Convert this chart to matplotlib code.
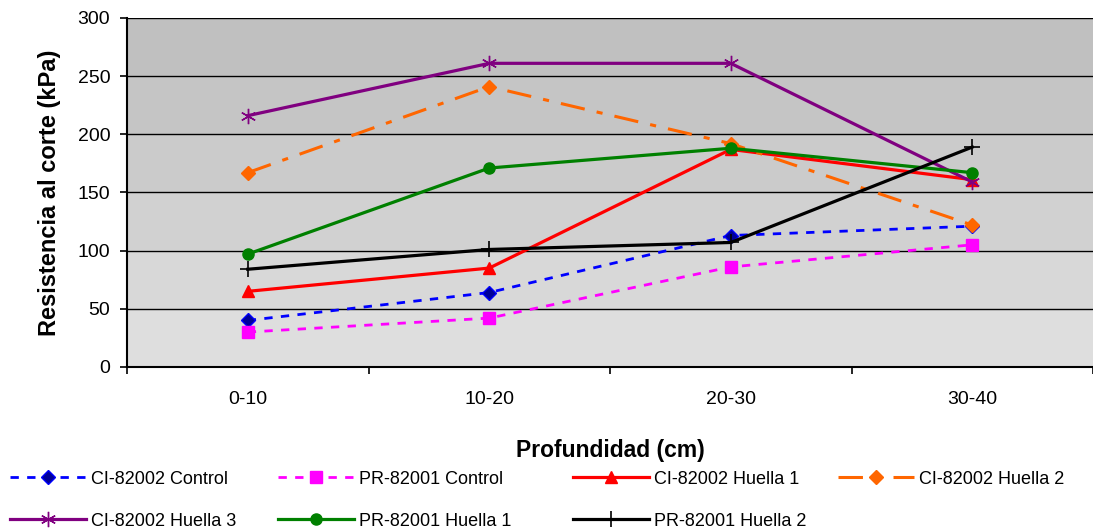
import numpy as np
import matplotlib.pyplot as plt

plt.rcParams['font.family'] = ['Liberation Sans', 'DejaVu Sans']

# datos
profundidad = ['0-10', '10-20', '20-30', '30-40']
ci_control = [40, 64, 113, 121]
pr_control = [30, 42, 86, 105]
ci_huella1 = [65, 85, 187, 161]
ci_huella2 = [167, 241, 192, 122]
ci_huella3 = [216, 261, 261, 159]
pr_huella1 = [97, 171, 188, 167]
pr_huella2 = [84, 101, 107, 189]

fig = plt.figure(figsize=(10.93, 5.31), dpi=100)
ax = fig.add_axes([0.1162, 0.3089, 0.8838, 0.6573])

x = np.arange(len(profundidad))

# fondo degradado en bandas
bandas = np.array([0.75, 0.77, 0.795, 0.82, 0.845, 0.87]).reshape(-1, 1)
ax.imshow(bandas, cmap='gray', vmin=0, vmax=1, aspect='auto',
          extent=[-0.5, 3.5, 0, 300], origin='upper', zorder=0, interpolation='nearest')

for yv in range(50, 301, 50):
    ax.axhline(yv, color='black', lw=1.0, zorder=1)

series = [
    (ci_control, 'CI-82002 Control', dict(color='#0000ff', ls=(0, (3, 3)), lw=2, marker='D', ms=7, mfc='#000099', mec='#0000ff')),
    (pr_control, 'PR-82001 Control', dict(color='#ff00ff', ls=(0, (3, 3)), lw=2, marker='s', ms=8)),
    (ci_huella1, 'CI-82002 Huella 1', dict(color='#ff0000', ls='-', lw=2.3, marker='^', ms=9)),
    (ci_huella2, 'CI-82002 Huella 2', dict(color='#ff6600', ls=(0, (8, 4, 2, 4)), lw=2.2, marker='D', ms=7)),
    (ci_huella3, 'CI-82002 Huella 3', dict(color='#800080', ls='-', lw=2.3, marker=(6, 2, 0), ms=11, mew=1)),
    (pr_huella1, 'PR-82001 Huella 1', dict(color='#008000', ls='-', lw=2.3, marker='o', ms=8)),
    (pr_huella2, 'PR-82001 Huella 2', dict(color='#000000', ls='-', lw=2.3, marker='+', ms=12, mew=1.2)),
]

handles = []
for vals, nombre, st in series:
    h, = ax.plot(x, vals, label=nombre, zorder=3, **st)
    handles.append(h)

ax.set_xlim(-0.5, 3.5)
ax.set_ylim(0, 300)
ax.set_yticks(range(0, 301, 50))
ax.set_xticks(x)
ax.set_xticklabels(profundidad)
ax.set_xticks(np.arange(-0.5, 3.6, 1), minor=True)
ax.tick_params(axis='x', which='major', length=0, labelsize=14, pad=17)
ax.tick_params(axis='x', which='minor', length=5, width=1.2, direction='out')
ax.tick_params(axis='y', length=5, width=1.2, direction='out', labelsize=14, pad=7)

for s in ['top', 'right']:
    ax.spines[s].set_visible(False)
ax.spines['left'].set_linewidth(1.5)
ax.spines['bottom'].set_linewidth(1.5)

ax.set_xlabel('Profundidad (cm)', fontsize=16.5, fontweight='bold')
ax.set_ylabel('Resistencia al corte (kPa)', fontsize=17, fontweight='bold')
ax.xaxis.set_label_coords(0.5, -0.207)
ax.yaxis.set_label_coords(-0.068, 0.5)

# leyenda: cada entrada en su sitio (fila, columna)
pos_x = [10, 278, 573, 838, 10, 278, 573]
pos_y = [479, 479, 479, 479, 521, 521, 521]
for h, px, py in zip(handles, pos_x, pos_y):
    fig.legend([h], [h.get_label()], loc='center left',
               bbox_to_anchor=(px / 1093, 1 - py / 531), frameon=False,
               fontsize=13, handlelength=4.2, handletextpad=0.3,
               borderpad=0, borderaxespad=0)

fig.savefig('out.png', dpi=100)
